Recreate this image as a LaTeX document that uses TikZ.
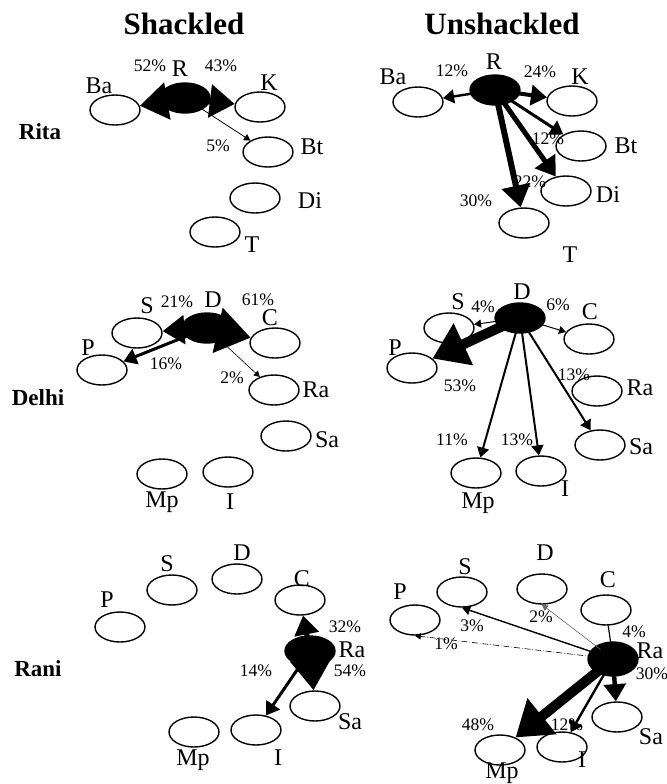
\documentclass[tikz,border=0pt]{standalone}
\usepackage{fontspec}
\setmainfont{Liberation Serif}
\usetikzlibrary{positioning,shapes.geometric,arrows.meta}

\tikzset{
  pers/.style={draw, ellipse, line width=0.7pt, minimum width=25pt, minimum height=15pt, inner sep=0pt},
  hub/.style={pers, fill=black},
  lbl/.style={font=\fontsize{12}{12}\selectfont, inner sep=0pt},
  pct/.style={font=\fontsize{8.8}{9}\selectfont, inner sep=0pt},
  head/.style={font=\fontsize{15.5}{16}\selectfont\bfseries, inner sep=0pt},
  row/.style={font=\fontsize{11.5}{12}\selectfont\bfseries, inner sep=0pt},
  flow/.style={line width=#1, -{Triangle[length=2pt 3, width=2pt 4]}, shorten <=-3pt},
  tie/.style={line width=#1, shorten <=-3pt},
}

\begin{document}
\begin{tikzpicture}[x=0.5pt, y=-0.5pt]
  \useasboundingbox (0,0) rectangle (667,784);
  \node[head] (shk) at (184,24) {Shackled};
  \node[head] (unshk) at (502,24) {Unshackled};
  \node[row] (rita) at (40,132) {Rita};
  \node[row] (delhi) at (38,398) {Delhi};
  \node[row] (rani) at (38,669) {Rani};

  % Rita, shackled
  \node[pers] (aBa) at (115,110) {};
  \node[hub] (aR) at (185,98) {};
  \node[pers] (aK) at (260,107) {};
  \node[pers] (aBt) at (268,152) {};
  \node[pers] (aDi) at (255,198) {};
  \node[pers] (aT) at (215,232) {};
  \node[lbl] (aBa-l) at (99,86) {Ba};
  \node[lbl] (aR-l) at (180,69) {R};
  \node[lbl] (aK-l) at (269,83) {K};
  \node[lbl] (aBt-l) at (312,147) {Bt};
  \node[lbl] (aDi-l) at (310,201) {Di};
  \node[lbl] (aT-l) at (252,245) {T};
  \node[pct] (aBa-p) at (150,66) {52\%};
  \node[pct] (aK-p) at (221,66) {43\%};
  \node[pct] (aBt-p) at (218,146) {5\%};
  \draw[flow=4pt] (aR) -- (aBa);
  \draw[flow=3.5pt] (aR) -- (aK);
  \draw[flow=0.4pt] (aR) -- (aBt);

  % Rita, unshackled
  \node[pers] (bBa) at (418,102) {};
  \node[hub] (bR) at (495,90) {};
  \node[pers] (bK) at (572,101) {};
  \node[pers] (bBt) at (581,146) {};
  \node[pers] (bDi) at (566,191) {};
  \node[pers] (bT) at (524,223) {};
  \node[lbl] (bBa-l) at (393,77) {Ba};
  \node[lbl] (bR-l) at (494,62) {R};
  \node[lbl] (bK-l) at (580,77) {K};
  \node[lbl] (bBt-l) at (626,146) {Bt};
  \node[lbl] (bDi-l) at (608,195) {Di};
  \node[lbl] (bT-l) at (570,255) {T};
  \node[pct] (bBa-p) at (452,71) {12\%};
  \node[pct] (bK-p) at (540,72) {24\%};
  \node[pct] (bBt-p) at (548,139) {12\%};
  \node[pct] (bDi-p) at (530,182) {22\%};
  \node[pct] (bT-p) at (476,201) {30\%};
  \draw[flow=1.2pt] (bR) -- (bBa);
  \draw[flow=2pt] (bR) -- (bK);
  \draw[flow=1.5pt] (bR) -- (bBt);
  \draw[flow=2.5pt] (bR) -- (bDi);
  \draw[flow=3pt] (bR) -- (bT);

  % Delhi, shackled
  \node[pers] (cS) at (137,333) {};
  \node[hub] (cD) at (207,328) {};
  \node[pers] (cC) at (275,343) {};
  \node[pers] (cP) at (102,370) {};
  \node[pers] (cRa) at (274,390) {};
  \node[pers] (cSa) at (286,436) {};
  \node[pers] (cI) at (228,472) {};
  \node[pers] (cMp) at (162,474) {};
  \node[lbl] (cS-l) at (147,306) {S};
  \node[lbl] (cD-l) at (213,300) {D};
  \node[lbl] (cC-l) at (270,318) {C};
  \node[lbl] (cP-l) at (88,348) {P};
  \node[lbl] (cRa-l) at (316,390) {Ra};
  \node[lbl] (cSa-l) at (327,440) {Sa};
  \node[lbl] (cI-l) at (230,502) {I};
  \node[lbl] (cMp-l) at (162,502) {Mp};
  \node[pct] (cS-p) at (177,302) {21\%};
  \node[pct] (cC-p) at (258,300) {61\%};
  \node[pct] (cP-p) at (166,364) {16\%};
  \node[pct] (cRa-p) at (232,378) {2\%};
  \draw[flow=3pt] (cD) -- (cS);
  \draw[flow=5pt] (cD) -- (cC);
  \draw[flow=1.5pt] (cD) -- (cP);
  \draw[flow=0.3pt] (cD) -- (cRa);

  % Delhi, unshackled
  \node[pers] (dS) at (449,328) {};
  \node[hub] (dD) at (520,318) {};
  \node[pers] (dC) at (589,339) {};
  \node[pers] (dP) at (412,368) {};
  \node[pers] (dRa) at (597,391) {};
  \node[pers] (dSa) at (600,445) {};
  \node[pers] (dI) at (541,471) {};
  \node[pers] (dMp) at (476,473) {};
  \node[lbl] (dS-l) at (458,302) {S};
  \node[lbl] (dD-l) at (522,292) {D};
  \node[lbl] (dC-l) at (590,312) {C};
  \node[lbl] (dP-l) at (395,348) {P};
  \node[lbl] (dRa-l) at (640,388) {Ra};
  \node[lbl] (dSa-l) at (641,447) {Sa};
  \node[lbl] (dI-l) at (565,489) {I};
  \node[lbl] (dMp-l) at (478,503) {Mp};
  \node[pct] (dS-p) at (483,307) {4\%};
  \node[pct] (dC-p) at (558,305) {6\%};
  \node[pct] (dP-p) at (460,386) {53\%};
  \node[pct] (dSa-p) at (574,375) {13\%};
  \node[pct] (dMp-p) at (452,440) {11\%};
  \node[pct] (dI-p) at (517,440) {13\%};
  \draw[flow=0.5pt] (dD) -- (dS);
  \draw[flow=0.5pt] (dD) -- (dC);
  \draw[flow=5pt] (dD) -- (dP);
  \draw[flow=1pt] (dD) -- (dSa);
  \draw[flow=1pt] (dD) -- (dMp);
  \draw[flow=1pt] (dD) -- (dI);

  % Rani, shackled
  \node[pers] (eP) at (120,627) {};
  \node[pers] (eS) at (172,590) {};
  \node[pers] (eD) at (237,579) {};
  \node[pers] (eC) at (300,600) {};
  \node[hub] (eRa) at (310,651) {};
  \node[pers] (eSa) at (315,706) {};
  \node[pers] (eI) at (256,730) {};
  \node[pers] (eMp) at (194,732) {};
  \node[lbl] (eP-l) at (107,600) {P};
  \node[lbl] (eS-l) at (167,564) {S};
  \node[lbl] (eD-l) at (242,553) {D};
  \node[lbl] (eC-l) at (302,579) {C};
  \node[lbl] (eRa-l) at (352,650) {Ra};
  \node[lbl] (eSa-l) at (350,722) {Sa};
  \node[lbl] (eI-l) at (278,758) {I};
  \node[lbl] (eMp-l) at (193,760) {Mp};
  \node[pct] (eC-p) at (345,627) {32\%};
  \node[pct] (eSa-p) at (350,671) {54\%};
  \node[pct] (eI-p) at (256,671) {14\%};
  \draw[flow=2.5pt] (eRa) -- (eC);
  \draw[flow=4.5pt] (eRa) -- (eSa);
  \draw[flow=1.5pt] (eRa) -- (eI);

  % Rani, unshackled
  \node[pers] (fP) at (415,620) {};
  \node[pers] (fS) at (462,592) {};
  \node[pers] (fD) at (542,589) {};
  \node[pers] (fC) at (606,610) {};
  \node[hub, minimum height=17pt] (fRa) at (613,659) {};
  \node[pers] (fSa) at (617,717) {};
  \node[pers] (fI) at (562,747) {};
  \node[pers] (fMp) at (500,750) {};
  \node[lbl] (fP-l) at (400,592) {P};
  \node[lbl] (fS-l) at (465,567) {S};
  \node[lbl] (fD-l) at (545,553) {D};
  \node[lbl] (fC-l) at (608,580) {C};
  \node[lbl] (fRa-l) at (650,651) {Ra};
  \node[lbl] (fSa-l) at (651,737) {Sa};
  \node[lbl] (fI-l) at (582,760) {I};
  \node[lbl] (fMp-l) at (502,773) {Mp};
  \node[pct] (fS-p) at (472,626) {3\%};
  \node[pct] (fP-p) at (446,644) {1\%};
  \node[pct] (fD-p) at (541,617) {2\%};
  \node[pct] (fC-p) at (634,632) {4\%};
  \node[pct] (fSa-p) at (652,674) {30\%};
  \node[pct] (fMp-p) at (478,725) {48\%};
  \node[pct] (fI-p) at (567,725) {12\%};
  \draw[flow=0.3pt, densely dashdotted] (fRa) -- (fP.south);
  \draw[flow=0.7pt] (fRa) -- (fS.south);
  \draw[flow=0.3pt, black!60] (fRa) -- (fD.south);
  \draw[tie=0.6pt] (fRa) -- (fC);
  \draw[flow=2.2pt] (fRa) -- (fSa);
  \draw[flow=5pt] (fRa) -- (fMp);
  \draw[flow=1.2pt] (fRa) -- (fI);
\end{tikzpicture}
\end{document}
